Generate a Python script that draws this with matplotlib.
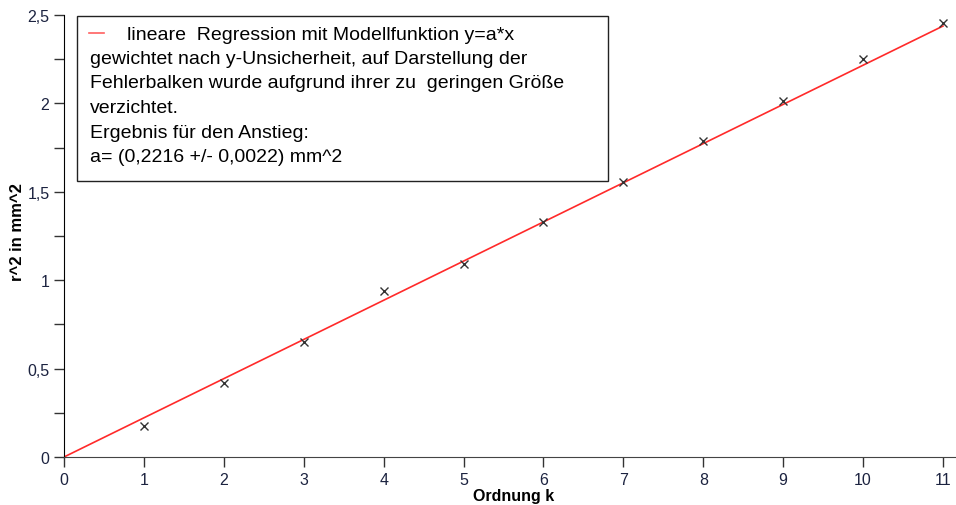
import numpy as np
import matplotlib
matplotlib.use("Agg")
import matplotlib.pyplot as plt
from matplotlib.patches import Rectangle
from matplotlib.lines import Line2D
from matplotlib.ticker import FixedLocator, FuncFormatter

plt.rcParams['font.family'] = ['Liberation Sans', 'DejaVu Sans']

# measured values: order k vs r^2 in mm^2
orders = np.arange(1, 12)
r_squared = [0.177, 0.42, 0.652, 0.937, 1.09, 1.33, 1.553, 1.787, 2.014, 2.252, 2.455]
slope = 0.2216  # fitted a in y = a*x

legend_lines = [
    "gewichtet nach y-Unsicherheit, auf Darstellung der",
    "Fehlerbalken wurde aufgrund ihrer zu  geringen Größe",
    "verzichtet.",
    "Ergebnis für den Anstieg:",
    "a= (0,2216 +/- 0,0022) mm^2",
]
legend_first = "lineare  Regression mit Modellfunktion y=a*x"

W, H = 956, 506
fig = plt.figure(figsize=(W / 100, H / 100), dpi=100)
ax = fig.add_axes([64 / W, 1 - 458 / H, (956 - 64) / W, (458 - 16) / H])

tick_color = "#1c2340"

# fit line
x_fit = np.array([0, orders[-1]])
ax.plot(x_fit, slope * x_fit, color="#ff2a2a", lw=1.2, zorder=2)
# data points
ax.plot(orders, r_squared, ls="none", marker="x", ms=6, mew=1.0, color="#333333", zorder=3)

ax.set_xlim(0, 11 + 13 / 79.9)
ax.set_ylim(0, 2.5)
ax.set_xticks(range(0, 12))
ax.set_yticks([0, 0.5, 1, 1.5, 2, 2.5])
ax.yaxis.set_minor_locator(FixedLocator([0.25, 0.75, 1.25, 1.75, 2.25]))
ax.yaxis.set_major_formatter(FuncFormatter(lambda v, p: f"{v:g}".replace(".", ",")))

for s in ["top", "right"]:
    ax.spines[s].set_visible(False)
ax.spines["left"].set_color("black")
ax.spines["bottom"].set_color("#444444")
ax.tick_params(axis="both", which="both", direction="out", length=7, width=1,
               color="#333333", labelcolor=tick_color, labelsize=11.5)
ax.tick_params(axis="x", pad=4)

ax.set_xlabel("Ordnung k", fontweight="bold", fontsize=11.5)
ax.set_ylabel("r^2 in mm^2", fontweight="bold", fontsize=12)
ax.xaxis.label.set_va("center")
ax.xaxis.set_label_coords((514 - 64) / 892, (458 - 497) / 442)
ax.yaxis.label.set_va("center")
ax.yaxis.set_label_coords((18 - 64) / 892, (458 - 232) / 442)

# legend box drawn by hand
fig.patches.append(Rectangle((77 / W, 1 - 182 / H), (608 - 77) / W, (182 - 17) / H,
                             transform=fig.transFigure, facecolor="white",
                             edgecolor="#222222", lw=1.0, zorder=5))
fig.lines.append(Line2D([89 / W, 104 / W], [1 - 34 / H, 1 - 34 / H],
                        transform=fig.transFigure, color="#ff6060", lw=1.2, zorder=6))
fig.text(127 / W, 1 - 35 / H, legend_first, fontsize=14, va="center", ha="left",
         color="black", zorder=6)
for i, line in enumerate(legend_lines):
    fig.text(90 / W, 1 - (59.5 + 24.5 * i) / H, line, fontsize=14, va="center",
             ha="left", color="black", zorder=6)

fig.savefig("out.png", dpi=100)
